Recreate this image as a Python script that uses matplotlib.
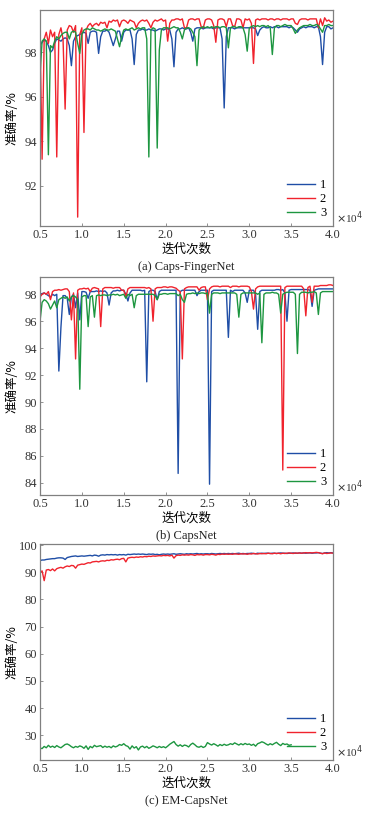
import numpy as np
import matplotlib
matplotlib.use("Agg")
import matplotlib.pyplot as plt

# iterations (x 10^4), one sample every 250 iterations
iters = np.arange(5000, 40001, 250) / 1e4
labels = ["1", "2", "3"]
colors = ["#1f4ea6", "#f0232d", "#1d9640"]

# (a) Caps-FingerNet
a_1 = [98.3, 98.45, 98.55, 98.5, 98.3, 98.0, 98.1, 98.4, 98.6, 98.55,
       98.5, 98.6, 98.65, 98.6, 98.3, 97.4, 98.5, 98.7, 98.75, 98.8,
       98.85, 98.9, 98.85, 98.4, 98.9, 98.95, 98.95, 98.9, 97.95, 98.7,
       98.95, 98.95, 99.0, 98.9, 98.6, 98.3, 98.6, 98.95, 98.95, 98.5,
       98.9, 99.0, 99.0, 99.0, 98.6, 97.45, 98.8, 99.0, 99.0, 99.05,
       99.0, 99.0, 99.05, 99.0, 99.0, 98.95, 99.0, 99.05, 99.05, 99.0,
       99.05, 99.05, 99.0, 98.6, 97.35, 98.9, 99.05, 99.05, 99.1, 99.05,
       99.05, 99.1, 98.9, 98.5, 99.05, 99.1, 99.1, 99.1, 99.05, 99.1,
       99.1, 99.1, 99.1, 99.05, 99.1, 99.1, 99.1, 98.6, 95.5, 98.7,
       99.1, 99.1, 99.1, 99.05, 99.1, 99.1, 99.1, 99.1, 99.1, 99.1,
       99.1, 99.1, 99.1, 99.05, 98.75, 99.0, 99.1, 99.15, 99.1, 99.1,
       99.15, 99.1, 99.15, 99.15, 99.1, 99.15, 99.15, 99.15, 99.15, 99.1,
       99.15, 99.1, 99.0, 98.9, 99.05, 99.1, 99.15, 99.1, 99.15, 99.15,
       99.15, 99.1, 99.15, 99.15, 98.7, 97.45, 98.9, 99.15, 99.15, 99.05,
       99.1]
a_2 = [98.9, 93.2, 98.6, 98.9, 98.4, 99.0, 98.7, 98.9, 93.3, 98.8,
       99.1, 98.6, 95.45, 99.0, 99.2, 99.15, 98.9, 99.2, 90.6, 98.8,
       99.1, 94.4, 99.0, 99.2, 99.3, 99.15, 99.25, 99.3, 99.2, 99.35,
       99.3, 99.35, 99.1, 99.4, 99.35, 99.45, 99.4, 99.45, 99.15, 99.4,
       99.45, 99.4, 99.3, 99.45, 99.4, 99.35, 99.1, 99.3, 99.4, 99.45,
       99.4, 99.45, 99.3, 99.1, 99.35, 99.45, 99.4, 99.45, 99.5, 99.4,
       99.45, 98.5, 99.3, 99.45, 99.45, 99.5, 99.5, 99.45, 99.5, 99.1,
       99.1, 99.45, 99.5, 99.5, 99.45, 99.5, 99.5, 99.15, 99.1, 99.45,
       99.5, 99.5, 99.45, 99.2, 98.45, 99.45, 99.5, 99.5, 99.45, 99.15,
       99.5, 99.5, 99.2, 99.15, 99.5, 99.5, 99.45, 99.1, 99.5, 99.45,
       99.5, 99.3, 97.5, 99.45, 99.5, 99.45, 99.5, 99.5, 99.5, 99.45,
       99.5, 99.5, 99.45, 99.5, 99.5, 99.45, 99.5, 99.5, 99.5, 99.45,
       99.5, 99.5, 99.3, 99.25, 99.45, 99.5, 99.5, 99.5, 99.45, 99.5,
       99.5, 99.5, 99.5, 99.1, 99.5, 99.2, 99.55, 99.4, 99.45, 99.35,
       99.4]
a_3 = [97.0, 98.5, 98.6, 98.5, 93.4, 98.3, 98.2, 98.5, 98.7, 98.6,
       98.75, 98.85, 98.9, 98.9, 98.6, 98.9, 98.95, 98.9, 98.4, 97.95,
       98.8, 99.0, 99.05, 99.05, 99.0, 99.1, 99.05, 99.0, 99.0, 98.95,
       99.0, 99.05, 99.0, 99.0, 99.05, 99.0, 98.95, 98.6, 98.25, 98.7,
       99.0, 99.05, 99.0, 99.05, 99.1, 99.0, 99.05, 99.1, 99.05, 99.1,
       99.1, 98.6, 93.3, 99.0, 99.1, 99.05, 93.7, 98.1, 99.0, 99.1,
       99.1, 99.1, 99.05, 99.1, 99.15, 99.1, 99.1, 98.9, 98.6, 99.0,
       99.1, 99.1, 99.05, 98.9, 98.7, 97.4, 99.0, 99.1, 99.15, 99.1,
       99.15, 99.1, 99.15, 99.1, 99.15, 99.15, 99.1, 99.15, 99.15, 99.1,
       98.2, 99.1, 99.15, 99.15, 99.1, 99.15, 99.15, 99.1, 98.8, 98.05,
       99.1, 99.15, 99.2, 99.15, 99.2, 99.15, 99.2, 99.2, 99.15, 99.2,
       99.1, 97.9, 99.1, 99.2, 99.2, 99.15, 99.2, 99.25, 99.2, 99.2,
       99.2, 99.05, 98.85, 99.0, 99.1, 99.15, 99.2, 99.2, 99.2, 99.25,
       99.2, 99.2, 99.25, 99.2, 99.05, 98.9, 99.2, 99.2, 99.25, 99.2,
       99.2]

# (b) CapsNet
b_1 = [98.0, 98.05, 98.1, 98.0, 97.9, 97.8, 98.0, 97.9, 98.0, 92.3,
       95.55, 97.9, 97.9, 97.7, 96.5, 97.8, 98.0, 97.0, 98.1, 96.1,
       98.2, 98.2, 98.15, 97.7, 98.2, 98.2, 98.2, 98.25, 98.2, 98.25,
       98.2, 98.25, 98.1, 97.2, 98.1, 98.25, 98.25, 98.3, 98.25, 98.3,
       98.3, 98.0, 97.5, 98.1, 98.3, 98.3, 98.3, 98.3, 98.3, 98.25,
       98.3, 91.5, 98.2, 98.3, 98.3, 98.2, 97.6, 98.2, 98.3, 98.3,
       98.3, 98.3, 98.3, 98.3, 98.3, 98.3, 84.7, 98.2, 98.3, 98.3,
       98.3, 98.3, 98.3, 98.3, 98.3, 97.9, 98.2, 98.3, 98.3, 98.3,
       98.3, 83.9, 98.2, 98.3, 98.3, 98.3, 98.3, 98.3, 98.3, 98.3,
       94.8, 98.3, 98.2, 98.3, 98.3, 98.3, 98.3, 98.3, 98.1, 97.4,
       98.3, 98.3, 98.3, 98.0, 95.4, 98.2, 98.3, 98.3, 98.3, 98.3,
       98.3, 98.3, 98.3, 98.35, 98.35, 98.3, 98.35, 98.1, 96.0, 98.3,
       98.35, 98.35, 98.35, 98.35, 98.35, 98.35, 98.35, 98.35, 98.35, 98.3,
       97.1, 98.3, 98.35, 98.4, 98.4, 98.4, 98.4, 98.4, 98.4, 98.4,
       98.4]
b_2 = [97.8, 98.0, 98.1, 98.0, 98.2, 97.6, 98.2, 98.3, 98.3, 98.35,
       98.3, 98.35, 98.4, 98.4, 98.2, 96.1, 98.1, 93.2, 98.3, 98.4,
       98.4, 98.45, 98.4, 98.45, 98.2, 98.45, 98.5, 98.45, 98.4, 95.6,
       98.4, 98.5, 98.5, 98.5, 98.5, 98.45, 98.5, 98.5, 98.5, 98.3,
       98.3, 97.8, 98.4, 98.5, 98.5, 98.5, 98.5, 98.5, 98.5, 98.5,
       98.5, 98.45, 98.5, 98.4, 96.0, 98.4, 98.5, 98.5, 98.5, 98.55,
       98.55, 98.5, 98.55, 98.55, 98.5, 98.45, 98.3, 98.2, 93.2, 98.4,
       98.5, 98.55, 98.55, 98.55, 98.55, 98.55, 98.3, 98.5, 98.55, 98.55,
       97.6, 98.4, 98.55, 98.6, 98.6, 98.6, 98.55, 98.6, 98.6, 98.6,
       98.6, 98.5, 98.6, 98.6, 98.6, 98.55, 98.6, 98.6, 98.6, 98.6,
       98.55, 98.2, 96.9, 98.4, 98.55, 98.6, 98.6, 98.6, 98.6, 98.6,
       98.6, 98.6, 98.6, 98.6, 98.6, 98.6, 84.95, 98.5, 98.6, 98.6,
       98.6, 98.6, 98.6, 98.6, 98.6, 98.6, 98.4, 96.4, 98.5, 98.6,
       97.4, 98.6, 98.6, 98.6, 98.65, 98.65, 98.65, 98.65, 98.7, 98.7,
       98.65]
b_3 = [96.0, 97.4, 97.6, 97.5, 97.3, 96.9, 97.2, 97.5, 97.0, 97.6,
       97.7, 97.8, 97.7, 97.8, 97.5, 97.8, 97.9, 97.8, 97.6, 90.95,
       97.8, 97.9, 97.9, 95.6, 97.8, 97.9, 96.3, 97.9, 97.95, 97.9,
       97.95, 97.95, 97.9, 97.95, 97.95, 98.0, 97.95, 98.0, 97.9, 97.95,
       98.0, 97.7, 98.0, 97.9, 98.0, 97.0, 97.9, 98.0, 98.0, 98.0,
       98.0, 98.0, 98.0, 98.0, 98.0, 97.9, 97.6, 98.0, 98.0, 98.05,
       98.05, 98.0, 98.05, 98.05, 98.05, 98.05, 97.9, 98.0, 97.6, 97.4,
       98.0, 98.05, 98.05, 98.1, 98.05, 98.1, 98.05, 98.1, 98.1, 98.05,
       98.1, 96.6, 98.0, 98.1, 98.1, 98.1, 98.05, 98.1, 98.1, 98.1,
       98.1, 98.1, 98.1, 98.1, 98.0, 96.3, 98.0, 98.1, 98.1, 98.1,
       98.1, 98.1, 98.1, 98.1, 98.0, 98.1, 94.4, 98.0, 98.1, 98.1,
       98.1, 98.15, 98.1, 98.1, 98.0, 96.6, 98.0, 98.1, 98.15, 98.15,
       98.15, 98.15, 98.0, 93.6, 98.0, 98.15, 98.15, 98.15, 98.1, 98.15,
       98.15, 98.2, 98.1, 96.5, 98.1, 98.2, 98.2, 98.2, 98.2, 98.2,
       98.2]

# (c) EM-CapsNet
c_1 = [94.3, 94.5, 94.5, 94.7, 94.8, 94.9, 95.0, 95.0, 95.2, 95.3,
       95.3, 95.2, 94.7, 95.4, 95.6, 95.8, 95.9, 96.0, 95.8, 95.9,
       96.0, 95.9, 96.0, 96.1, 96.2, 96.0, 96.3, 96.2, 95.9, 96.3,
       96.4, 96.3, 96.5, 96.4, 96.5, 96.4, 96.5, 96.3, 96.5, 96.4,
       96.5, 96.3, 96.6, 96.5, 96.6, 96.7, 96.6, 96.7, 96.6, 96.7,
       96.6, 96.5, 96.7, 96.6, 96.7, 96.5, 96.6, 96.4, 96.6, 96.7,
       96.6, 96.7, 96.6, 96.7, 96.8, 96.6, 96.7, 96.8, 96.7, 96.6,
       96.8, 96.7, 96.8, 96.7, 96.8, 96.9, 96.7, 96.8, 96.7, 96.8,
       96.8, 96.7, 96.9, 96.8, 96.7, 96.8, 96.9, 96.8, 96.9, 96.8,
       96.9, 96.8, 96.9, 96.8, 96.9, 97.0, 96.8, 96.9, 96.8, 96.9,
       96.9, 97.0, 96.9, 96.8, 97.0, 96.9, 97.0, 96.9, 97.0, 97.0,
       96.9, 97.0, 97.0, 96.9, 97.0, 97.1, 97.0, 97.0, 96.9, 97.0,
       97.0, 97.1, 97.0, 97.0, 97.1, 97.0, 97.1, 97.0, 97.1, 97.1,
       97.0, 97.1, 97.1, 97.2, 97.0, 96.9, 97.1, 97.2, 97.1, 97.2,
       97.1]
c_2 = [89.9, 90.5, 86.9, 90.8, 91.0, 90.6, 91.2, 90.5, 91.3, 91.6,
       91.8, 91.5, 92.0, 92.3, 92.1, 92.5, 92.4, 91.5, 92.6, 92.8,
       93.0, 92.9, 93.2, 93.5, 93.4, 93.8, 93.9, 94.0, 93.8, 94.1,
       94.2, 94.1, 94.4, 94.3, 94.6, 94.5, 94.7, 94.8, 94.6, 95.0,
       95.1, 93.8, 95.2, 95.4, 95.5, 95.4, 95.6, 95.5, 95.7, 95.6,
       95.8, 95.7, 95.9, 95.8, 96.0, 95.9, 96.0, 96.1, 96.0, 96.2,
       96.1, 96.2, 96.0, 96.3, 95.2, 96.1, 96.3, 96.2, 96.4, 96.3,
       96.4, 96.3, 96.5, 96.4, 96.2, 96.5, 96.4, 96.5, 96.3, 96.5,
       96.5, 96.4, 96.6, 96.5, 96.3, 96.6, 96.5, 96.7, 96.6, 96.7,
       96.6, 96.7, 96.6, 96.8, 96.7, 96.6, 96.8, 96.7, 96.8, 96.6,
       96.8, 96.7, 96.9, 96.8, 96.7, 96.9, 96.8, 96.9, 96.8, 97.0,
       96.9, 96.8, 97.0, 96.9, 97.0, 96.8, 97.0, 96.9, 97.0, 97.1,
       97.0, 96.9, 97.1, 97.0, 97.1, 97.0, 97.1, 97.2, 97.1, 97.2,
       97.1, 97.2, 97.3, 97.2, 97.0, 96.8, 97.1, 96.9, 97.0, 97.1,
       97.0]
# series 3 of (c) stops at 3.5e4
c_3 = [25.3, 25.1, 25.9, 25.4, 26.3, 25.6, 26.0, 25.5, 26.2, 25.7,
       25.4, 26.0, 26.6, 26.8, 26.4, 25.8, 25.4, 25.9, 25.6, 26.1,
       25.8, 25.2, 26.1, 24.8, 25.9, 25.4, 26.3, 25.8, 26.0, 26.2,
       25.5, 26.0, 25.6, 25.9, 25.4, 26.1, 25.7, 26.0, 26.6, 26.3,
       26.9, 26.2, 25.9, 24.9, 26.1, 25.3, 25.8, 24.6, 25.7, 26.0,
       25.4, 25.9, 25.2, 25.6, 26.1, 25.8, 25.4, 25.9, 25.5, 25.8,
       25.4, 26.0, 26.7, 27.2, 27.7, 26.6, 26.0, 26.5, 25.9, 26.4,
       26.2, 25.7, 26.6, 27.1, 26.5, 25.8, 25.6, 26.0, 25.5, 25.9,
       27.3, 26.8, 26.4, 26.9, 26.5, 26.0, 26.6, 26.2, 26.7, 26.3,
       26.5, 26.9, 26.6, 27.2, 26.8, 26.4, 26.9, 26.5, 27.0, 26.6,
       26.8, 26.3, 26.7, 26.0, 26.9, 27.2, 27.6, 27.3, 26.8, 26.4,
       26.9, 26.5, 27.0, 27.4, 26.7, 26.2, 27.0, 26.6, 26.8, 26.3,
       26.5]

panels = [
    ([a_1, a_2, a_3], (90.2, 99.9), [92, 94, 96, 98], "(a) Caps-FingerNet"),
    ([b_1, b_2, b_3], (83.1, 99.26), [84, 86, 88, 90, 92, 94, 96, 98], "(b) CapsNet"),
    ([c_1, c_2, c_3], (20.9, 100.4), [30, 40, 50, 60, 70, 80, 90, 100], "(c) EM-CapsNet"),
]
boxes = [[0.1064, 0.7237, 0.7793, 0.2641],
         [0.1064, 0.3949, 0.7793, 0.2661],
         [0.1064, 0.0709, 0.7793, 0.2641]]

serif = "Liberation Serif"
cjk = ["Noto Sans CJK SC", "DejaVu Sans"]

fig = plt.figure(figsize=(3.76, 8.18), dpi=100)

for (series, ylim, yticks, title), box in zip(panels, boxes):
    ax = fig.add_axes(box)
    for s, c, lab in zip(series, colors, labels):
        ax.plot(iters[:len(s)], s, color=c, lw=1.0, label=lab)
    ax.set_xlim(0.5, 4.0)
    ax.set_ylim(*ylim)
    ax.set_xticks(np.arange(0.5, 4.01, 0.5))
    ax.set_xticklabels([f"{v:.1f}" for v in np.arange(0.5, 4.01, 0.5)])
    ax.set_yticks(yticks)
    ax.tick_params(direction="in", length=2, width=0.6, color="#808080",
                   labelsize=9, pad=2)
    for lbl in ax.get_xticklabels() + ax.get_yticklabels():
        lbl.set_fontfamily(serif)
        lbl.set_color("#333333")
    for sp in ax.spines.values():
        sp.set_color("#808080")
        sp.set_linewidth(0.9)
    ax.set_xlabel("迭代次数", family=cjk, fontsize=9, labelpad=1)
    ax.set_ylabel("准确率/%", family=cjk, fontsize=9)
    ax.yaxis.set_label_coords(-0.075, 0.5)
    ax.text(1.01, 0.0, r"$\times$10$^4$", transform=ax.transAxes,
            family=serif, fontsize=8, color="#333333", va="bottom", ha="left")
    ax.text(0.5, -0.16, title, transform=ax.transAxes, family=serif,
            fontsize=9, ha="center", va="top", color="#222222")
    ax.legend(loc="lower right", frameon=False, handlelength=2.2,
              handletextpad=0.4, labelspacing=0.15, borderaxespad=0.15,
              prop={"family": serif, "size": 9})

fig.savefig("out.png", dpi=100, facecolor="white")
